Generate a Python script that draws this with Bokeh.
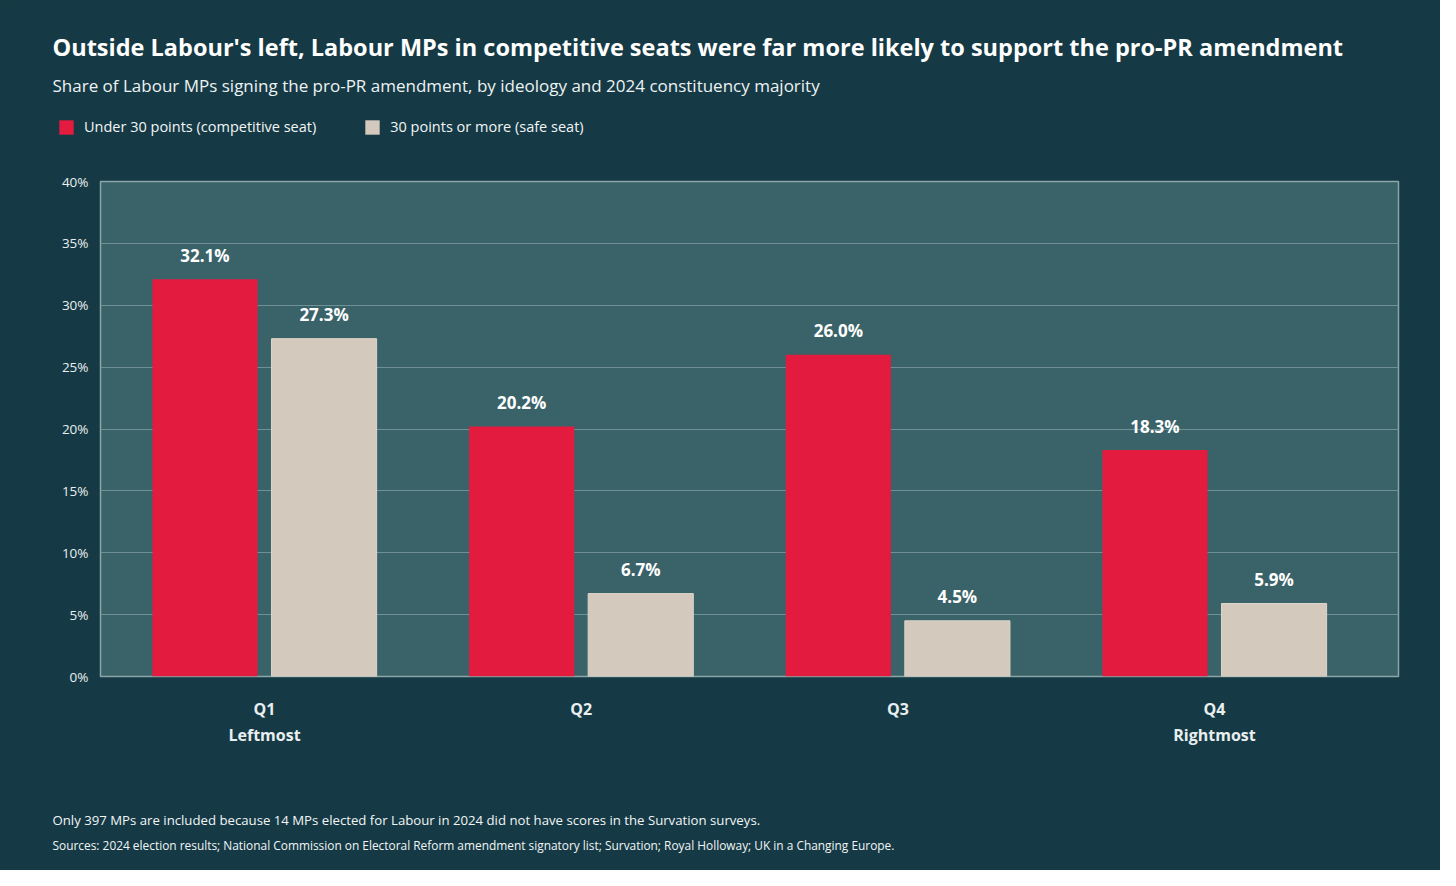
from bokeh.plotting import figure
from bokeh.models import (ColumnDataSource, Label, LabelSet, Legend, LegendItem,
                          FixedTicker, Range1d)
from bokeh.layouts import column
from bokeh.core.properties import value
from bokeh.embed import file_html
from bokeh.resources import INLINE

# ---- data ----
categories = ["Q1\nLeftmost", "Q2", "Q3", "Q4\nRightmost"]
competitive = [32.1, 20.2, 26.0, 18.3]
safe = [27.3, 6.7, 4.5, 5.9]
series_names = ["Under 30 points (competitive seat)", "30 points or more (safe seat)"]
y_ticks = [0, 5, 10, 15, 20, 25, 30, 35, 40]

title_text = "Outside Labour's left, Labour MPs in competitive seats were far more likely to support the pro-PR amendment"
subtitle_text = "Share of Labour MPs signing the pro-PR amendment, by ideology and 2024 constituency majority"
note1 = "Only 397 MPs are included because 14 MPs elected for Labour in 2024 did not have scores in the Survation surveys."
note2 = "Sources: 2024 election results; National Commission on Electoral Reform amendment signatory list; Survation; Royal Holloway; UK in a Changing Europe."

# ---- style ----
FONT = "Open Sans"
PAGE_BG = "#153a45"
PLOT_BG = "#3a6369"
GRID = "#6f9094"
RED = "#e31b3f"
BEIGE = "#d3c9bc"
TXT = "#ffffff"
W = 1440


def blank(height):
    f = figure(width=W, height=height, output_backend="svg", toolbar_location=None,
               x_range=Range1d(0, W), y_range=Range1d(height, 0),
               min_border=0, min_border_left=0, min_border_right=0,
               min_border_top=0, min_border_bottom=0,
               x_axis_type=None, y_axis_type=None)
    if "frame_align" in f.properties():
        f.frame_align = False
    f.background_fill_color = PAGE_BG
    f.border_fill_color = PAGE_BG
    f.outline_line_color = None
    f.xgrid.grid_line_color = None
    f.ygrid.grid_line_color = None
    return f


def add_text(f, txt, x, y, size, style="normal", color=TXT):
    f.add_layout(Label(x=x, y=y, text=txt, text_font=FONT, text_font_size=size,
                       text_font_style=style, text_color=color,
                       text_align="left", text_baseline="middle"))


xs = list(range(len(categories)))

# ---- header ----
HDR_H = 171
hdr = blank(HDR_H)
add_text(hdr, title_text, 52, 46, "23.5px", "bold")
add_text(hdr, subtitle_text, 52, 85, "17px", "normal", "#eef2f3")
# hidden renderers only used to draw the legend swatches
h1 = hdr.vbar(x=xs, top=competitive, width=0.3, fill_color=RED, line_color=None, visible=False)
h2 = hdr.vbar(x=xs, top=safe, width=0.3, fill_color=BEIGE, line_color=None, visible=False)
leg = Legend(items=[LegendItem(label=series_names[0], renderers=[h1]),
                    LegendItem(label=series_names[1], renderers=[h2])],
             orientation="horizontal", location=(57, HDR_H - 136),
             glyph_width=18, glyph_height=18, label_height=14, label_standoff=9,
             spacing=47, padding=0, margin=0, border_line_color=None,
             background_fill_alpha=0, inactive_fill_alpha=0,
             label_text_color="#f2f5f6",
             label_text_font=FONT, label_text_font_size="14.5px")
hdr.add_layout(leg, "center")

# ---- main chart ----
off = 0.188
bw = 0.332
src = ColumnDataSource(dict(
    x_red=[x - off for x in xs],
    x_beige=[x + off for x in xs],
    red=competitive,
    beige=safe,
    red_lbl=[f"{v:.1f}%" for v in competitive],
    beige_lbl=[f"{v:.1f}%" for v in safe],
))

p = figure(width=W, height=619, output_backend="svg", toolbar_location=None,
           x_range=Range1d(-0.518, 3.581), y_range=Range1d(0, 40),
           min_border_left=100, min_border_right=42, min_border_top=10, min_border_bottom=114)
if "frame_align" in p.properties():
    p.frame_align = False
p.background_fill_color = PLOT_BG
p.border_fill_color = PAGE_BG
p.outline_line_color = "#8aa6a9"
p.outline_line_width = 1.5

r1 = p.vbar(x="x_red", top="red", width=bw, source=src, fill_color=RED, line_color=None)
r2 = p.vbar(x="x_beige", top="beige", width=bw, source=src, fill_color=BEIGE,
            line_color="#ddd5ca", line_width=1)

for col, lbl in (("x_red", "red"), ("x_beige", "beige")):
    p.add_layout(LabelSet(x=col, y=lbl, text=lbl + "_lbl", source=src, text_align="center",
                          text_baseline="middle", y_offset=24, text_color=TXT,
                          text_font=value(FONT), text_font_size="17px",
                          text_font_style="bold"))

p.xgrid.grid_line_color = None
p.ygrid.grid_line_color = GRID
p.ygrid.grid_line_width = 1
p.yaxis.ticker = FixedTicker(ticks=y_ticks)
p.yaxis.major_label_overrides = {t: f"{t}%" for t in y_ticks}
p.xaxis.ticker = FixedTicker(ticks=xs)
p.xaxis.major_label_overrides = {x: c for x, c in zip(xs, categories)}
for ax in (p.xaxis, p.yaxis):
    ax.axis_line_color = None
    ax.major_tick_line_color = None
    ax.minor_tick_line_color = None
    ax.major_label_text_color = "#e9eff0"
    ax.major_label_text_font = FONT
p.yaxis.major_label_text_font_size = "13.5px"
p.yaxis.major_label_standoff = 6
p.xaxis.major_label_text_font_size = "16px"
p.xaxis.major_label_text_font_style = "bold"
p.xaxis.major_label_standoff = 15

# ---- footer ----
ftr = blank(80)
add_text(ftr, note1, 52, 29, "13.2px", "normal", "#f2f5f6")
add_text(ftr, note2, 52, 54, "11.9px", "normal", "#f2f5f6")

layout = column(hdr, p, ftr, spacing=0, styles={"background-color": PAGE_BG})
open("out.html", "w").write(file_html(layout, INLINE))
